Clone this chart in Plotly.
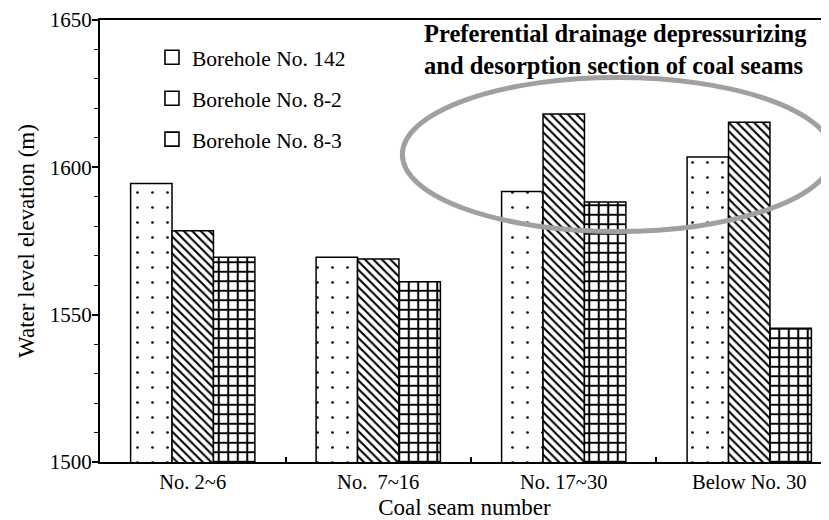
import plotly.graph_objects as go

categories = ["No. 2~6", "No.\u00a0 7~16", "No. 17~30", "Below No. 30"]
series_names = ["Borehole No. 142", "Borehole No. 8-2", "Borehole No. 8-3"]
b142 = [1594.5, 1569.5, 1591.8, 1603.5]
b82 = [1578.5, 1568.9, 1618.1, 1615.3]
b83 = [1569.5, 1561.2, 1588.2, 1545.4]
y_ticks = [1500, 1550, 1600, 1650]
note_text = "Preferential drainage depressurizing<br>and desorption section of coal seams"

FONT = "Liberation Serif, Times New Roman, serif"

patterns = [
    dict(shape=".", size=15, solidity=0.025, fgcolor="black", bgcolor="white", fillmode="replace"),
    dict(shape="\\", size=6, solidity=0.35, fgcolor="black", bgcolor="white", fillmode="replace"),
    dict(shape="+", size=9.5, solidity=0.38, fgcolor="black", bgcolor="white", fillmode="replace"),
]

fig = go.Figure()
for name, vals, pat in zip(series_names, [b142, b82, b83], patterns):
    fig.add_trace(go.Bar(
        x=categories, y=vals, name=name, showlegend=False,
        marker=dict(color="white", pattern=pat, line=dict(color="black", width=1.5)),
    ))

# legend entries shown as empty squares, like the reference
for i, name in enumerate(series_names):
    fig.add_trace(go.Scatter(
        x=[None], y=[None], mode="markers", name=name, legendgroup=f"g{i}",
        marker=dict(symbol="square-open", size=14, color="black", line=dict(width=1.6)),
    ))

# highlight ellipse around the last two groups
fig.add_shape(type="circle", xref="x", yref="y", x0=1.13, x1=3.45, y0=1578.2, y1=1630.5,
              line=dict(color="#a0a0a0", width=5), layer="above")

fig.add_annotation(
    xref="x", yref="y", x=1.236, y=1639.9, text=note_text,
    showarrow=False, xanchor="left", yanchor="middle", align="left",
    font=dict(family=FONT, size=24.5, color="black", weight="bold"),
)

# page body has an 8px margin, so the figure is drawn 8px smaller and offset
fig.update_layout(
    width=821, height=512,
    margin=dict(l=92, r=0, t=12, b=58),
    paper_bgcolor="white", plot_bgcolor="white",
    barmode="group", bargap=0.33, bargroupgap=0,
    font=dict(family=FONT, size=20, color="black"),
    legend=dict(x=0.0713, y=0.962, xanchor="left", yanchor="top", bgcolor="rgba(0,0,0,0)",
                font=dict(size=21.5), traceorder="grouped", tracegroupgap=10),
    showlegend=True,
)
fig.update_xaxes(
    range=[-0.5, 3.43], showline=True, linecolor="black", linewidth=2, mirror=True,
    tickson="boundaries", ticks="inside", ticklen=5, tickcolor="black", tickwidth=1.5,
    title=dict(text="Coal seam number", font=dict(size=23), standoff=8),
    tickfont=dict(size=20.5), showgrid=False, zeroline=False, automargin=False,
)
fig.update_yaxes(
    range=[1500, 1650], tickvals=y_ticks, showline=True, linecolor="black", linewidth=2,
    ticks="outside", ticklen=6, tickwidth=1.5, tickcolor="black", ticklabelstandoff=-4,
    minor=dict(dtick=10, ticks="outside", ticklen=4, tickcolor="black", tickwidth=1.2),
    title=dict(text="Water level elevation (m)", font=dict(size=23), standoff=9),
    tickfont=dict(size=21), showgrid=False, zeroline=False, automargin=False,
)

fig.write_html("out.html")
